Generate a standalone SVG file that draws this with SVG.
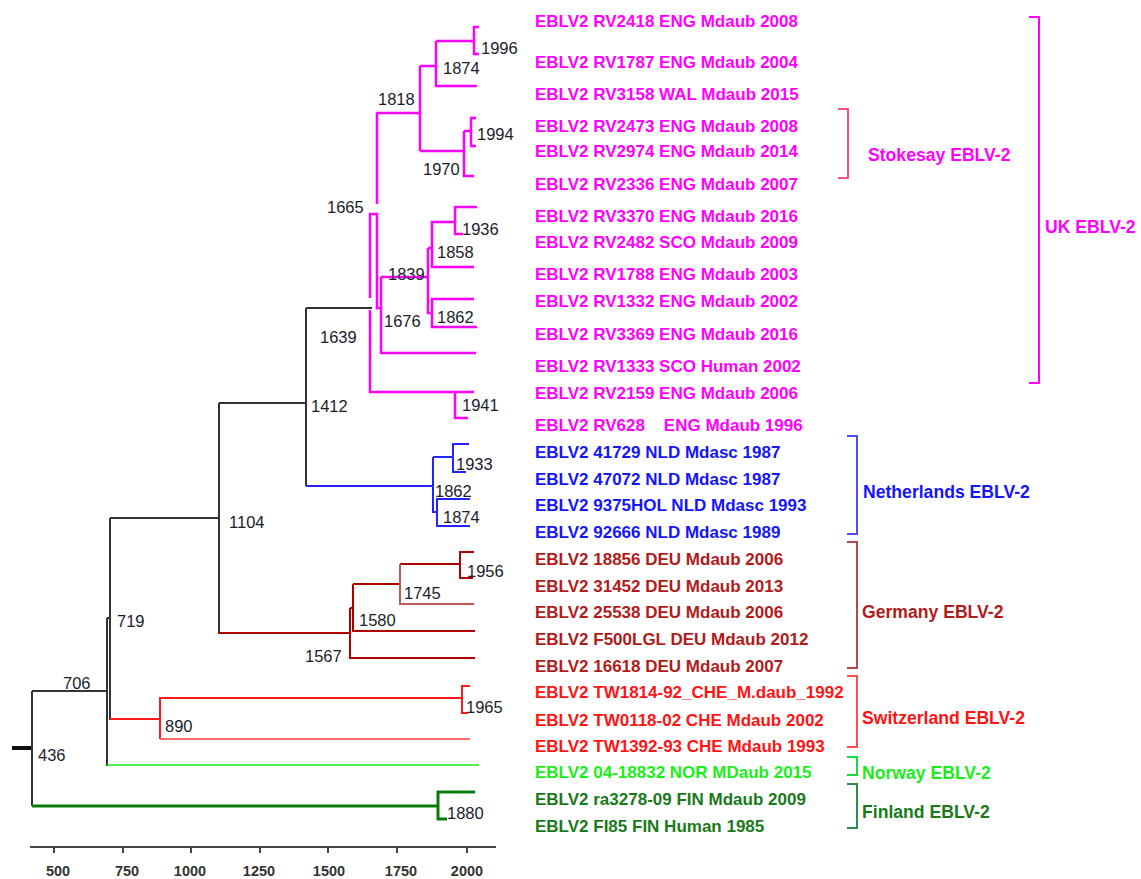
<svg xmlns="http://www.w3.org/2000/svg" width="1141" height="879" viewBox="0 0 1141 879">
<style>
.t{font-family:"Liberation Sans",Arial,sans-serif;font-weight:bold;font-size:17px}
.yr{font-family:"Liberation Sans",Arial,sans-serif;font-size:16.5px;fill:#1c1c2a}
.grp{font-family:"Liberation Sans",Arial,sans-serif;font-weight:bold;font-size:17.6px}
.ax{font-family:"Liberation Sans",Arial,sans-serif;font-weight:bold;font-size:14.5px;fill:#333;text-anchor:middle}
.pk{fill:#ff00ff}.bl{fill:#1414ff}.dr{fill:#b31a1a}.rd{fill:#ff1414}.gn{fill:#1aee1a}.dg{fill:#1a7a1a}
.k{stroke:#333;stroke-width:2;fill:none}
.p{stroke:#ff00ff;stroke-width:2.5;fill:none}
.b{stroke:#2424ff;stroke-width:2;fill:none}
.d{stroke:#b00000;stroke-width:2;fill:none}
.dl{stroke:#c05a5a;stroke-width:2;fill:none}
.r{stroke:#ff1a1a;stroke-width:2;fill:none}
.rl{stroke:#ff6a6a;stroke-width:2;fill:none}
.g{stroke:#11ee11;stroke-width:1.5;fill:none}
.dgs{stroke:#0a7a0a;stroke-width:3;fill:none}
.br{fill:none;stroke-width:2}
</style>
<rect width="1141" height="879" fill="#fff"/>

<g id="connectors">
  <!-- black backbone -->
  <path d="M12,748 H33" stroke="#111" stroke-width="4" fill="none"/>
  <path class="k" d="M32,691 V806 M32,691 H108 M107,618 V766 M110,518 V720 M107,618 H110 M110,518 H219 M219,403 V634 M219,403 H306 M306,308 V486 M306,308 H372"/>
  <!-- pink UK clade -->
  <path class="p" d="M377,204 V113 H420 M370,298 V214 H377 V308 H381 M370,310 V392 H455"/>
  <path class="p" d="M420,66 V151 M420,66 H436 M420,151 H464"/>
  <path class="p" d="M436,41 V86 H477 M436,41 H474 M479,27 H474 V54 H479"/>
  <path class="p" d="M464,131 V176 H474 M464,131 H471 M476,118 H471 V146 H476"/>
  <path class="p" d="M381,277 V353 H476 M381,277 H428 M428,248 V313 H432 M428,248 H432"/>
  <path class="p" d="M455,222 H432 V267 H474 M477,207 H455 V234 H463"/>
  <path class="p" d="M474,299 H432 V327 H477"/>
  <path class="p" d="M474,392 H455 V418 H468"/>
  <!-- blue Netherlands -->
  <path class="b" d="M306,486 H433 M433,457 V512 H437 M433,457 H453 M469,444 H453 V472 H466 M470,499 H437 V526 H470"/>
  <!-- dark red Germany -->
  <path class="d" d="M219,633 H350" stroke-width="3"/>
  <path class="d" d="M350,608 V658 H475 M350,608 H353 M353,584 V631 H475 M353,584 H400 M400,564 H460 M474,552 H460 V578 H473"/>
  <path class="dl" d="M400,564 V604 H474"/>
  <!-- red Switzerland -->
  <path class="r" d="M110,719 H160 M160,739 V698 H462 M470,686 H462 V713 H468"/>
  <path class="rl" d="M160,739 H470"/>
  <!-- green Norway -->
  <path class="g" d="M107,765 H479"/>
  <!-- dark green Finland -->
  <path class="dgs" d="M32,806 H438"/>
  <path class="dgs" d="M475,792 H438 V819 H447" stroke-width="2"/>
</g>

<g id="node-years" class="yr">
  <text x="481" y="54">1996</text>
  <text x="443" y="74">1874</text>
  <text x="378" y="105">1818</text>
  <text x="477" y="140">1994</text>
  <text x="423" y="175">1970</text>
  <text x="327" y="213">1665</text>
  <text x="462" y="235">1936</text>
  <text x="437" y="258">1858</text>
  <text x="388" y="280">1839</text>
  <text x="437" y="323">1862</text>
  <text x="384" y="327">1676</text>
  <text x="320" y="343">1639</text>
  <text x="462" y="411">1941</text>
  <text x="311" y="412">1412</text>
  <text x="456" y="470">1933</text>
  <text x="435" y="497">1862</text>
  <text x="443" y="523">1874</text>
  <text x="229" y="528">1104</text>
  <text x="467" y="577">1956</text>
  <text x="404" y="599">1745</text>
  <text x="359" y="626">1580</text>
  <text x="117" y="627">719</text>
  <text x="305" y="662">1567</text>
  <text x="63" y="689">706</text>
  <text x="466" y="713">1965</text>
  <text x="165" y="732">890</text>
  <text x="38" y="761">436</text>
  <text x="447" y="819">1880</text>
</g>

<g id="leaves" class="t">
  <g id="leaf-RV2418"><text class="pk" x="535" y="27">EBLV2 RV2418 ENG Mdaub 2008</text></g>
  <g id="leaf-RV1787"><text class="pk" x="535" y="68">EBLV2 RV1787 ENG Mdaub 2004</text></g>
  <g id="leaf-RV3158"><text class="pk" x="535" y="100">EBLV2 RV3158 WAL Mdaub 2015</text></g>
  <g id="leaf-RV2473"><text class="pk" x="535" y="132">EBLV2 RV2473 ENG Mdaub 2008</text></g>
  <g id="leaf-RV2974"><text class="pk" x="535" y="157">EBLV2 RV2974 ENG Mdaub 2014</text></g>
  <g id="leaf-RV2336"><text class="pk" x="535" y="190">EBLV2 RV2336 ENG Mdaub 2007</text></g>
  <g id="leaf-RV3370"><text class="pk" x="535" y="222">EBLV2 RV3370 ENG Mdaub 2016</text></g>
  <g id="leaf-RV2482"><text class="pk" x="535" y="248">EBLV2 RV2482 SCO Mdaub 2009</text></g>
  <g id="leaf-RV1788"><text class="pk" x="535" y="280">EBLV2 RV1788 ENG Mdaub 2003</text></g>
  <g id="leaf-RV1332"><text class="pk" x="535" y="307">EBLV2 RV1332 ENG Mdaub 2002</text></g>
  <g id="leaf-RV3369"><text class="pk" x="535" y="340">EBLV2 RV3369 ENG Mdaub 2016</text></g>
  <g id="leaf-RV1333"><text class="pk" x="535" y="372">EBLV2 RV1333 SCO Human 2002</text></g>
  <g id="leaf-RV2159"><text class="pk" x="535" y="399">EBLV2 RV2159 ENG Mdaub 2006</text></g>
  <g id="leaf-RV628"><text class="pk" x="535" y="431" style="white-space:pre">EBLV2 RV628    ENG Mdaub 1996</text></g>
  <g id="leaf-41729"><text class="bl" x="535" y="458">EBLV2 41729 NLD Mdasc 1987</text></g>
  <g id="leaf-47072"><text class="bl" x="535" y="485">EBLV2 47072 NLD Mdasc 1987</text></g>
  <g id="leaf-9375HOL"><text class="bl" x="535" y="511">EBLV2 9375HOL NLD Mdasc 1993</text></g>
  <g id="leaf-92666"><text class="bl" x="535" y="538">EBLV2 92666 NLD Mdasc 1989</text></g>
  <g id="leaf-18856"><text class="dr" x="535" y="565">EBLV2 18856 DEU Mdaub 2006</text></g>
  <g id="leaf-31452"><text class="dr" x="535" y="592">EBLV2 31452 DEU Mdaub 2013</text></g>
  <g id="leaf-25538"><text class="dr" x="535" y="618">EBLV2 25538 DEU Mdaub 2006</text></g>
  <g id="leaf-F500LGL"><text class="dr" x="535" y="645">EBLV2 F500LGL DEU Mdaub 2012</text></g>
  <g id="leaf-16618"><text class="dr" x="535" y="672">EBLV2 16618 DEU Mdaub 2007</text></g>
  <g id="leaf-TW1814"><text class="rd" x="535" y="698">EBLV2 TW1814-92_CHE_M.daub_1992</text></g>
  <g id="leaf-TW0118"><text class="rd" x="535" y="726">EBLV2 TW0118-02 CHE Mdaub 2002</text></g>
  <g id="leaf-TW1392"><text class="rd" x="535" y="752">EBLV2 TW1392-93 CHE Mdaub 1993</text></g>
  <g id="leaf-04-18832"><text class="gn" x="535" y="778">EBLV2 04-18832 NOR MDaub 2015</text></g>
  <g id="leaf-ra3278"><text class="dg" x="535" y="805">EBLV2 ra3278-09 FIN Mdaub 2009</text></g>
  <g id="leaf-FI85"><text class="dg" x="535" y="832">EBLV2 FI85 FIN Human 1985</text></g>
</g>

<g id="groups">
  <g id="grp-stokesay"><path class="br" stroke="#ff4d8a" d="M838,109 H848 V178 H838"/><text class="grp pk" x="868" y="161">Stokesay EBLV-2</text></g>
  <g id="grp-uk"><path class="br" stroke="#ff00ff" d="M1029,17 H1039 V383 H1029"/><text class="grp pk" x="1045" y="233">UK EBLV-2</text></g>
  <g id="grp-nl"><path class="br" stroke="#4d4dff" d="M847,436 H857 V534 H847"/><text class="grp bl" x="863" y="498">Netherlands EBLV-2</text></g>
  <g id="grp-de"><path class="br" stroke="#b84848" d="M847,542 H857 V668 H847"/><text class="grp dr" x="862" y="618">Germany EBLV-2</text></g>
  <g id="grp-ch"><path class="br" stroke="#ff4d4d" d="M847,676 H857 V747 H847"/><text class="grp rd" x="862" y="724">Switzerland EBLV-2</text></g>
  <g id="grp-no"><path class="br" stroke="#11dd44" d="M847,757 H857 V775 H847"/><text class="grp gn" x="862" y="779">Norway EBLV-2</text></g>
  <g id="grp-fi"><path class="br" stroke="#2e8b4e" d="M847,784 H857 V828 H847"/><text class="grp dg" x="862" y="818">Finland EBLV-2</text></g>
</g>

<g id="axis">
  <path d="M30,847 H496 M54,847 V853 M123,847 V853 M191,847 V853 M260,847 V853 M328,847 V853 M397,847 V853 M467,847 V853" stroke="#444" stroke-width="2" fill="none"/>
  <text class="ax" x="58" y="876">500</text>
  <text class="ax" x="127" y="876">750</text>
  <text class="ax" x="190" y="876">1000</text>
  <text class="ax" x="259" y="876">1250</text>
  <text class="ax" x="329" y="876">1500</text>
  <text class="ax" x="401" y="876">1750</text>
  <text class="ax" x="467" y="876">2000</text>
</g>
</svg>
